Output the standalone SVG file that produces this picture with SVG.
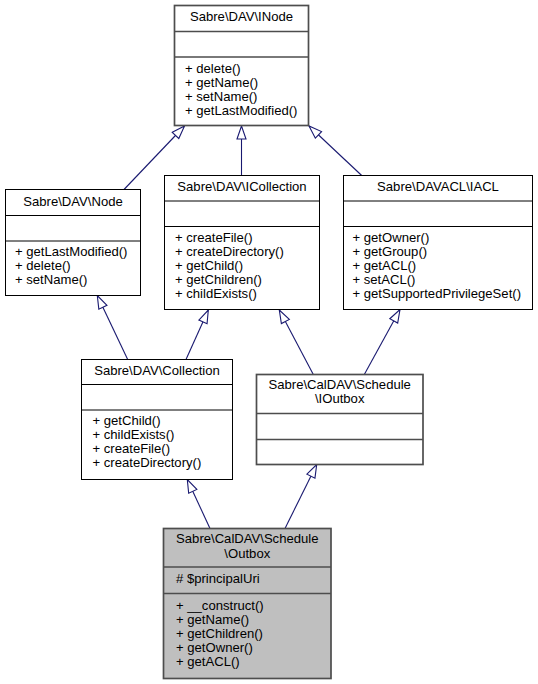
<svg xmlns="http://www.w3.org/2000/svg" width="538" height="684" viewBox="0 0 538 684">
<defs>
<style>
text{font-family:"Liberation Sans",Arial,Helvetica,sans-serif;font-size:13.1px;fill:#000}
.t{text-anchor:middle}
.box{fill:#fff;stroke:#000;stroke-width:1}
.gbox{fill:#fff;stroke:#4d4d4d;stroke-width:1.7}
.root{fill:#bfbfbf;stroke:#4d4d4d;stroke-width:1.7}
.sep{stroke:#000;stroke-width:1}
.gsep{stroke:#4d4d4d;stroke-width:1.7}
.edge{fill:none;stroke:#191970;stroke-width:1.1;marker-end:url(#tri)}
</style>
<marker id="tri" markerUnits="userSpaceOnUse" viewBox="-1 -6 15 12" markerWidth="15" markerHeight="12" refX="13" refY="0" orient="auto">
<path d="M0,-4.5 L13,0 L0,4.5 Z" fill="#fff" stroke="#191970" stroke-width="1.1"/>
</marker>
</defs>
<rect width="538" height="684" fill="#fff"/>
<g id="connectors">
<path class="edge" d="M124,189.5 L184.5,126"/>
<path class="edge" d="M241.5,175.5 L241.5,126"/>
<path class="edge" d="M361.7,175.5 L309,126"/>
<path class="edge" d="M127.7,359.5 L97.3,295.5"/>
<path class="edge" d="M186,359.5 L208.3,310"/>
<path class="edge" d="M313.3,374.5 L279.3,310"/>
<path class="edge" d="M364.3,374.5 L400,309.5"/>
<path class="edge" d="M210,528.5 L187.3,479.5"/>
<path class="edge" d="M285,528.5 L316.7,464.5"/>
</g>
<g id="INode">
<rect class="gbox" x="174.5" y="5.5" width="134" height="120"/>
<line class="gsep" x1="174.5" y1="31.5" x2="308.5" y2="31.5"/>
<line class="gsep" x1="174.5" y1="57" x2="308.5" y2="57"/>
<text class="t" x="241.5" y="21">Sabre\DAV\INode</text>
<text x="185" y="72.5">+ delete()</text>
<text x="185" y="86.5">+ getName()</text>
<text x="185" y="100.5">+ setName()</text>
<text x="185" y="114.5">+ getLastModified()</text>
</g>
<g id="Node">
<rect class="box" x="5.5" y="189.5" width="135" height="106"/>
<line class="sep" x1="5.5" y1="215.5" x2="140.5" y2="215.5"/>
<line class="sep" x1="5.5" y1="241" x2="140.5" y2="241"/>
<text class="t" x="73" y="205.5">Sabre\DAV\Node</text>
<text x="15" y="256">+ getLastModified()</text>
<text x="15" y="270">+ delete()</text>
<text x="15" y="284">+ setName()</text>
</g>
<g id="ICollection">
<rect class="box" x="164.5" y="175.5" width="155" height="134"/>
<line class="sep" x1="164.5" y1="201" x2="319.5" y2="201"/>
<line class="sep" x1="164.5" y1="226.5" x2="319.5" y2="226.5"/>
<text class="t" x="242" y="190.5">Sabre\DAV\ICollection</text>
<text x="175" y="241.5">+ createFile()</text>
<text x="175" y="255.5">+ createDirectory()</text>
<text x="175" y="269.5">+ getChild()</text>
<text x="175" y="283.5">+ getChildren()</text>
<text x="175" y="297.5">+ childExists()</text>
</g>
<g id="IACL">
<rect class="box" x="343.5" y="175.5" width="189" height="134"/>
<line class="sep" x1="343.5" y1="201" x2="532.5" y2="201"/>
<line class="sep" x1="343.5" y1="226.5" x2="532.5" y2="226.5"/>
<text class="t" x="438" y="190.5">Sabre\DAVACL\IACL</text>
<text x="352.5" y="241.5">+ getOwner()</text>
<text x="352.5" y="255.5">+ getGroup()</text>
<text x="352.5" y="269.5">+ getACL()</text>
<text x="352.5" y="283.5">+ setACL()</text>
<text x="352.5" y="297.5">+ getSupportedPrivilegeSet()</text>
</g>
<g id="Collection">
<rect class="box" x="81.5" y="359.5" width="151" height="120"/>
<line class="sep" x1="81.5" y1="384.5" x2="232.5" y2="384.5"/>
<line class="sep" x1="81.5" y1="410" x2="232.5" y2="410"/>
<text class="t" x="157" y="375">Sabre\DAV\Collection</text>
<text x="92.5" y="425">+ getChild()</text>
<text x="92.5" y="439">+ childExists()</text>
<text x="92.5" y="453">+ createFile()</text>
<text x="92.5" y="467">+ createDirectory()</text>
</g>
<g id="IOutbox">
<rect class="gbox" x="256.5" y="374.5" width="166.5" height="90"/>
<line class="gsep" x1="256.5" y1="413.5" x2="423" y2="413.5"/>
<line class="gsep" x1="256.5" y1="439.5" x2="423" y2="439.5"/>
<text class="t" x="339.7" y="389">Sabre\CalDAV\Schedule</text>
<text class="t" x="339.7" y="403">\IOutbox</text>
</g>
<g id="Outbox">
<rect class="root" x="163.5" y="528.5" width="167.5" height="150"/>
<line class="gsep" x1="163.5" y1="567" x2="331" y2="567"/>
<line class="gsep" x1="163.5" y1="593.5" x2="331" y2="593.5"/>
<text class="t" x="247.3" y="543">Sabre\CalDAV\Schedule</text>
<text class="t" x="247.3" y="557.5">\Outbox</text>
<text x="176" y="582.5"># $principalUri</text>
<text x="176" y="609.5">+ __construct()</text>
<text x="176" y="623.5">+ getName()</text>
<text x="176" y="637.5">+ getChildren()</text>
<text x="176" y="651.5">+ getOwner()</text>
<text x="176" y="665.5">+ getACL()</text>
</g>
</svg>
